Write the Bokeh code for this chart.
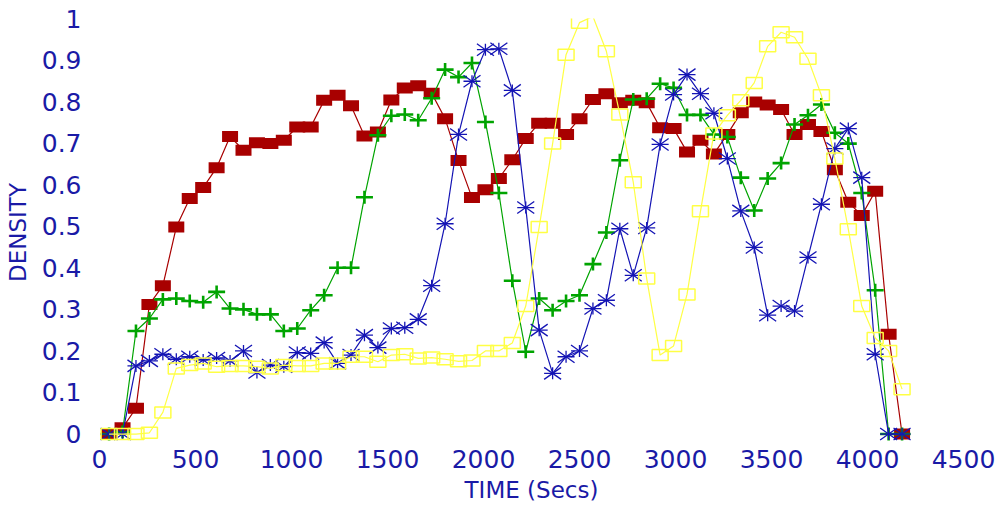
import math
from bokeh.plotting import figure
from bokeh.models import FixedTicker, ColumnDataSource, Range1d
from bokeh.embed import file_html
from bokeh.resources import INLINE

# ---------------- data ----------------
time_s = [50, 120, 190, 260, 330, 400, 470, 540, 610, 680, 750, 820, 890, 960, 1030,
          1100, 1170, 1240, 1310, 1380, 1450, 1520, 1590, 1660, 1730, 1800, 1870, 1940,
          2010, 2080, 2150, 2220, 2290, 2360, 2430, 2500, 2570, 2640, 2710, 2780, 2850,
          2920, 2990, 3060, 3130, 3200, 3270, 3340, 3410, 3480, 3550, 3620, 3690, 3760,
          3830, 3900, 3970, 4040, 4110, 4180]

red_density = [0.0, 0.015, 0.062, 0.312, 0.357, 0.498, 0.567, 0.593, 0.641, 0.716,
               0.683, 0.701, 0.699, 0.707, 0.739, 0.739, 0.803, 0.815, 0.790, 0.717,
               0.727, 0.804, 0.833, 0.838, 0.820, 0.759, 0.658, 0.569, 0.588, 0.615,
               0.660, 0.711, 0.748, 0.748, 0.721, 0.759, 0.805, 0.819, 0.797, 0.803,
               0.797, 0.737, 0.735, 0.679, 0.707, 0.674, 0.721, 0.773, 0.799, 0.792,
               0.781, 0.721, 0.745, 0.728, 0.636, 0.558, 0.526, 0.584, 0.240, 0.0]

green_density = [0.0, 0.005, 0.248, 0.278, 0.324, 0.326, 0.320, 0.317, 0.342, 0.302,
                 0.300, 0.288, 0.288, 0.248, 0.254, 0.298, 0.334, 0.400, 0.400, 0.570,
                 0.719, 0.766, 0.769, 0.755, 0.808, 0.877, 0.859, 0.893, 0.751, 0.580,
                 0.369, 0.198, 0.326, 0.298, 0.320, 0.334, 0.409, 0.485, 0.659, 0.805,
                 0.807, 0.843, 0.833, 0.768, 0.768, 0.721, 0.715, 0.617, 0.538, 0.615,
                 0.652, 0.745, 0.767, 0.793, 0.725, 0.699, 0.580, 0.346, 0.0, 0.0]

blue_density = [0.0, 0.0, 0.164, 0.176, 0.192, 0.180, 0.186, 0.178, 0.183, 0.176,
                0.200, 0.148, 0.166, 0.162, 0.196, 0.194, 0.220, 0.170, 0.190, 0.238,
                0.208, 0.254, 0.256, 0.276, 0.357, 0.506, 0.721, 0.849, 0.925, 0.927,
                0.827, 0.545, 0.250, 0.146, 0.186, 0.200, 0.302, 0.322, 0.494, 0.382,
                0.496, 0.697, 0.817, 0.865, 0.819, 0.772, 0.663, 0.537, 0.449, 0.286,
                0.308, 0.296, 0.425, 0.553, 0.687, 0.735, 0.617, 0.192, 0.0, 0.0]

yellow_density = [0.0, 0.0, 0.0, 0.003, 0.052, 0.158, 0.166, 0.170, 0.162, 0.164,
                  0.164, 0.162, 0.158, 0.166, 0.164, 0.164, 0.170, 0.170, 0.186, 0.186,
                  0.174, 0.190, 0.192, 0.182, 0.184, 0.180, 0.175, 0.177, 0.200, 0.200,
                  0.219, 0.308, 0.498, 0.699, 0.913, 0.990, 1.005, 0.921, 0.769, 0.606,
                  0.374, 0.190, 0.212, 0.336, 0.536, 0.723, 0.767, 0.803, 0.845, 0.933,
                  0.967, 0.955, 0.903, 0.815, 0.663, 0.493, 0.308, 0.231, 0.200, 0.108]

x_ticks = [0, 500, 1000, 1500, 2000, 2500, 3000, 3500, 4000, 4500]
y_ticks = [0, 0.1, 0.2, 0.3, 0.4, 0.5, 0.6, 0.7, 0.8, 0.9, 1]
y_tick_labels = ["0", "0.1", "0.2", "0.3", "0.4", "0.5", "0.6", "0.7", "0.8", "0.9", "1"]

# ---------------- styling ----------------
TXT = "#1a1aa6"
RED = "#a80000"
GREEN = "#00a400"
BLUE = "#1414b4"
YELLOW = "#ffff44"
FONT = "DejaVu Sans"

p = figure(width=1000, height=510, output_backend="svg", toolbar_location=None,
           x_range=Range1d(0, 4500), y_range=Range1d(-0.03, 1.0),
           min_border_left=99, min_border_right=37, min_border_top=18,
           min_border_bottom=64)

p.outline_line_color = None
p.grid.visible = False
p.background_fill_color = "white"
p.border_fill_color = "white"

for ax in (p.xaxis[0], p.yaxis[0]):
    ax.axis_line_color = None
    ax.major_tick_line_color = None
    ax.minor_tick_line_color = None
    ax.major_tick_out = 0
    ax.major_tick_in = 0
    ax.major_label_text_font = FONT
    ax.major_label_text_font_size = "25px"
    ax.major_label_text_color = TXT
    ax.axis_label_text_font = FONT
    ax.axis_label_text_font_size = "23px"
    ax.axis_label_text_font_style = "normal"
    ax.axis_label_text_color = TXT

p.xaxis.ticker = FixedTicker(ticks=x_ticks)
p.yaxis.ticker = FixedTicker(ticks=y_ticks)
p.yaxis.major_label_overrides = dict(zip(y_ticks, y_tick_labels))
p.xaxis.axis_label = "TIME (Secs)"
p.yaxis.axis_label = "DENSITY"
p.xaxis.major_label_standoff = 3
p.xaxis.axis_label_standoff = 6
p.yaxis.major_label_standoff = 18
p.yaxis.axis_label_standoff = 8

src = ColumnDataSource(dict(t=time_s, red=red_density, green=green_density,
                            blue=blue_density, yellow=yellow_density))

# yellow markers only for points inside the plotted range (as the original does)
y_in = [(t, v) for t, v in zip(time_s, yellow_density) if v <= 1.0]
ysrc = ColumnDataSource(dict(t=[a for a, _ in y_in], v=[b for _, b in y_in]))

# red: filled rectangles
p.line("t", "red", source=src, line_color=RED, line_width=1.2)
p.rect("t", "red", source=src, width=16, height=11, width_units="screen",
       height_units="screen", fill_color=RED, line_color=None)

# green: plus
p.line("t", "green", source=src, line_color=GREEN, line_width=1.2)
p.rect("t", "green", source=src, width=17, height=2.6, width_units="screen",
       height_units="screen", fill_color=GREEN, line_color=None)
p.rect("t", "green", source=src, width=2.6, height=13, width_units="screen",
       height_units="screen", fill_color=GREEN, line_color=None)

# blue: asterisk
p.line("t", "blue", source=src, line_color=BLUE, line_width=1.2)
p.rect("t", "blue", source=src, width=17, height=1.3, width_units="screen",
       height_units="screen", fill_color=BLUE, line_color=None)
p.rect("t", "blue", source=src, width=1.3, height=12, width_units="screen",
       height_units="screen", fill_color=BLUE, line_color=None)
diag = math.hypot(17, 12)
ang = math.atan2(12, 17)
for a in (ang, -ang):
    p.rect("t", "blue", source=src, width=diag, height=1.3, angle=a,
           width_units="screen", height_units="screen",
           fill_color=BLUE, line_color=None)

# yellow: open rectangles
p.line("t", "yellow", source=src, line_color=YELLOW, line_width=1.2)
p.rect("t", "v", source=ysrc, width=16, height=11, width_units="screen",
       height_units="screen", fill_color=None, line_color=YELLOW, line_width=1.5)

open("out.html", "w").write(file_html(p, INLINE))
